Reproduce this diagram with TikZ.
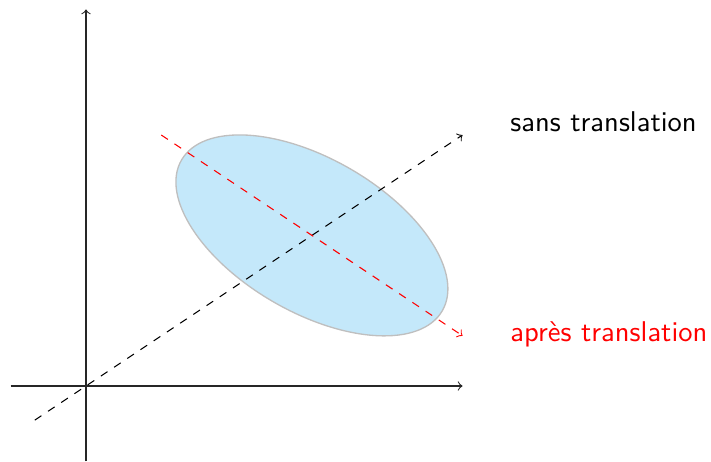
\documentclass[tikz,border=0pt]{standalone}
\usepackage{fontspec}
\definecolor{ellfill}{RGB}{196,232,250}
\begin{document}
\begin{tikzpicture}[x=1cm,y=1cm,
  axis/.style={->,line width=0.4pt,black!85},
  lbl/.style={font=\fontsize{10.8}{13}\selectfont\sffamily,inner sep=0pt}]
\useasboundingbox (-1.142,-0.996) rectangle (8.30,5.126);
\fill[ellfill, draw=black!25, line width=0.5pt, rotate around={-30:(3,2)}] (3,2) ellipse [x radius=2, y radius=1.02];
\coordinate (xs) at (-1,0);
\coordinate (xe) at (5,0);
\coordinate (ys) at (0,-1);
\coordinate (ye) at (0,5);
\draw[axis] (xs) -- (xe);
\draw[axis] (ys) -- (ye);
\coordinate (bs) at (-0.68,-0.453);
\coordinate (be) at (5,3.333);
\coordinate (rs) at (1,3.333);
\coordinate (re) at (5,0.667);
\draw[->,dashed] (bs) -- (be);
\draw[->,dashed,red] (rs) -- (re);
\node[lbl,anchor=base west] (sans) at (5.63,3.38) {sans translation};
\node[lbl,anchor=base west,red] (apres) at (5.63,0.59) {après translation};
\end{tikzpicture}
\end{document}
